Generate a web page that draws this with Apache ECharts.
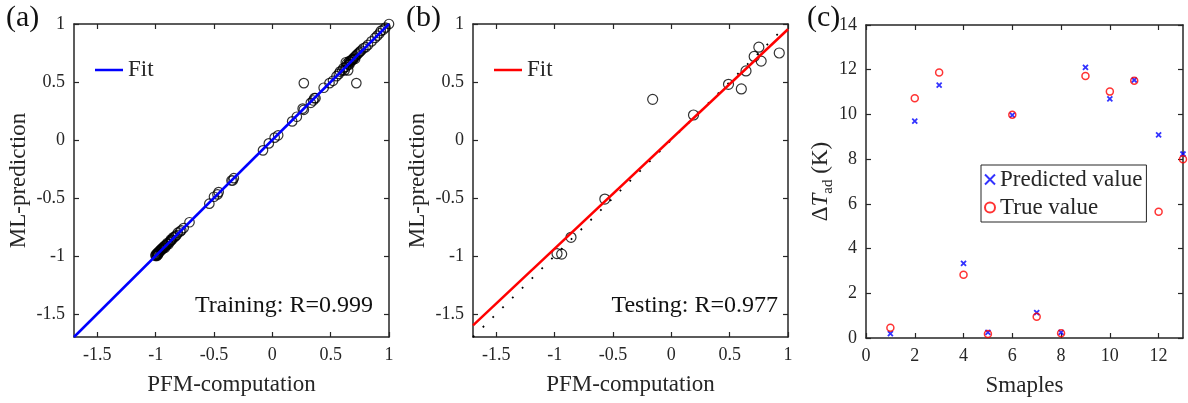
<!DOCTYPE html>
<html>
<head>
<meta charset="utf-8">
<script src="https://cdn.jsdelivr.net/npm/echarts@6/dist/echarts.min.js"></script>
<style>html,body{margin:0;padding:0;background:#fff}#c{width:1188px;height:403px}</style>
</head>
<body>
<div id="c"></div>
<script>
// ---------- data ----------
// (a) training: PFM-computation (x) vs ML-prediction (y)
const trainX = [-1.00,-1.00,-0.99,-0.99,-0.99,-0.98,-0.98,-0.98,-0.97,-0.97,-0.96,-0.96,-0.95,-0.95,-0.94,-0.94,-0.93,-0.93,-0.92,-0.92,-0.91,-0.90,-0.90,-0.89,-0.88,-0.87,-0.87,-0.86,-0.85,-0.84,-0.83,-0.82,-0.81,-0.79,-0.78,-0.76,-0.71,-0.54,-0.50,-0.47,-0.46,-0.35,-0.34,-0.33,-0.08,-0.03,0.02,0.05,0.17,0.21,0.26,0.27,0.27,0.33,0.35,0.36,0.37,0.44,0.49,0.52,0.55,0.57,0.58,0.60,0.61,0.62,0.63,0.63,0.64,0.65,0.65,0.66,0.66,0.67,0.67,0.68,0.69,0.69,0.70,0.71,0.71,0.72,0.72,0.73,0.74,0.75,0.76,0.78,0.80,0.82,0.85,0.88,0.90,0.92,0.93,0.95,0.97,1.00];
const trainY = [-1.00,-0.99,-0.99,-0.98,-1.00,-0.99,-0.97,-0.98,-0.97,-0.96,-0.96,-0.95,-0.95,-0.94,-0.94,-0.93,-0.92,-0.93,-0.93,-0.91,-0.91,-0.89,-0.90,-0.90,-0.88,-0.86,-0.87,-0.86,-0.84,-0.84,-0.83,-0.82,-0.80,-0.79,-0.78,-0.76,-0.71,-0.55,-0.49,-0.47,-0.45,-0.35,-0.35,-0.33,-0.09,-0.03,0.02,0.04,0.16,0.20,0.27,0.49,0.26,0.32,0.34,0.36,0.36,0.45,0.49,0.51,0.55,0.57,0.59,0.60,0.62,0.60,0.67,0.63,0.66,0.60,0.65,0.65,0.68,0.67,0.68,0.69,0.70,0.69,0.71,0.72,0.70,0.73,0.49,0.74,0.75,0.76,0.77,0.79,0.80,0.82,0.85,0.88,0.90,0.92,0.94,0.95,0.97,1.00];
const fitAX = [-1.7, 1.0];
const fitAY = [-1.7, 1.0];
// (b) testing
const testX = [-0.98,-0.94,-0.86,-0.57,-0.16,0.19,0.49,0.60,0.64,0.71,0.75,0.77,0.925];
const testY = [-0.98,-0.985,-0.84,-0.51,0.35,0.215,0.48,0.44,0.595,0.72,0.80,0.68,0.75];
const fitBX = [-1.7, 1.0];
const fitBY = [-1.60, 0.955];
const idealX = [-1.7, 0.93];
const idealY = [-1.7, 0.93];
// (c) samples
const samples   = [1,2,3,4,5,6,7,8,9,10,11,12,13];
const predicted = [0.20,9.70,11.31,3.34,0.25,9.97,1.13,0.25,12.10,10.70,11.54,9.09,8.23];
const trueVal   = [0.46,10.72,11.88,2.83,0.18,9.99,0.95,0.21,11.72,11.02,11.51,5.65,7.99];
// ticks
const ticksAB = [-1.5,-1,-0.5,0,0.5,1];
const ticksCX = [0,2,4,6,8,10,12];
const ticksCY = [0,2,4,6,8,10,12,14];

const zip = (a,b) => a.map((v,i)=>[v,b[i]]);
const FONT = 'Liberation Serif';
const AX = '#262626';

function mkAxis(type, grid, min, max, ticks, main, pos, extra) {
  const o = {
    type: 'value', gridIndex: grid, min: min, max: max, position: pos,
    splitLine: {show: false},
    axisLine: {show: true, onZero: false, lineStyle: {color: AX, width: 1.5}},
    axisTick: {show: true, inside: true, length: 5, customValues: ticks, lineStyle: {color: AX, width: 1.2}},
    axisLabel: {show: main, customValues: ticks, color: '#262626', fontSize: 18, fontFamily: FONT, margin: 9},
  };
  return Object.assign(o, extra || {});
}

const nameStyle = {color: '#262626', fontSize: 23, fontFamily: FONT};

const option = {
  animation: false,
  backgroundColor: '#fff',
  textStyle: {fontFamily: FONT},
  grid: [
    {left: 74, top: 24, width: 315, height: 313},
    {left: 473, top: 24, width: 315, height: 313},
    {left: 866, top: 25, width: 317, height: 313}
  ],
  xAxis: [
    mkAxis('x',0,-1.7,1,ticksAB,true,'bottom',{name:'PFM-computation',nameLocation:'middle',nameGap:36,nameTextStyle:nameStyle}),
    mkAxis('x',0,-1.7,1,ticksAB,false,'top'),
    mkAxis('x',1,-1.7,1,ticksAB,true,'bottom',{name:'PFM-computation',nameLocation:'middle',nameGap:36,nameTextStyle:nameStyle}),
    mkAxis('x',1,-1.7,1,ticksAB,false,'top'),
    mkAxis('x',2,0,13,ticksCX,true,'bottom',{name:'Smaples',nameLocation:'middle',nameGap:36,nameTextStyle:nameStyle}),
    mkAxis('x',2,0,13,ticksCX,false,'top')
  ],
  yAxis: [
    mkAxis('y',0,-1.7,1,ticksAB,true,'left',{name:'ML-prediction',nameLocation:'middle',nameGap:44,nameTextStyle:nameStyle}),
    mkAxis('y',0,-1.7,1,ticksAB,false,'right'),
    mkAxis('y',1,-1.7,1,ticksAB,true,'left',{name:'ML-prediction',nameLocation:'middle',nameGap:44,nameTextStyle:nameStyle}),
    mkAxis('y',1,-1.7,1,ticksAB,false,'right'),
    mkAxis('y',2,0,14,ticksCY,true,'left',{
      name:'{d|Δ}{i|T}{s|ad}{d| (K)}', nameLocation:'middle', nameGap:20,
      nameTextStyle:{color:'#262626', fontFamily:FONT, fontSize:23,
        rich:{d:{fontSize:23,fontFamily:FONT,color:'#262626',lineHeight:28},
              i:{fontSize:23,fontFamily:FONT,fontStyle:'italic',color:'#262626',lineHeight:28},
              s:{fontSize:15,fontFamily:FONT,color:'#262626',verticalAlign:'bottom',lineHeight:22}}}
    }),
    mkAxis('y',2,0,14,ticksCY,false,'right')
  ],
  legend: [
    {left: 95, top: 58, padding: 0, itemWidth: 28, itemHeight: 2.5,
     data: [{name:'FitA', icon:'rect', itemStyle:{color:'#0000ff'}}],
     formatter: () => 'Fit', textStyle: {fontSize: 23, fontFamily: FONT, color: '#262626', lineHeight: 24}},
    {left: 494, top: 58, padding: 0, itemWidth: 28, itemHeight: 2.5,
     data: [{name:'FitB', icon:'rect', itemStyle:{color:'#ff0000'}}],
     formatter: () => 'Fit', textStyle: {fontSize: 23, fontFamily: FONT, color: '#262626', lineHeight: 24}},
    {left: 981, top: 165, orient: 'vertical', padding: [3,4,3,3], itemGap: 5, itemWidth: 10, itemHeight: 10,
     borderColor: '#262626', borderWidth: 1, backgroundColor: '#fff',
     data: ['Predicted value','True value'],
     textStyle: {fontSize: 23, fontFamily: FONT, color: '#262626'}}
  ],
  graphic: [
    {type:'text', left: 6, top: 3, style:{text:'(a)', font:'30px "Liberation Serif"', fill:'#111'}},
    {type:'text', left: 406, top: 3, style:{text:'(b)', font:'30px "Liberation Serif"', fill:'#111'}},
    {type:'text', left: 807, top: 3, style:{text:'(c)', font:'30px "Liberation Serif"', fill:'#111'}},
    {type:'text', right: 1188-373, top: 294, style:{text:'Training: R=0.999', font:'24px "Liberation Serif"', fill:'#111'}},
    {type:'text', right: 1188-778, top: 294, style:{text:'Testing: R=0.977', font:'24px "Liberation Serif"', fill:'#111'}}
  ],
  series: [
    {type:'scatter', name:'Training', xAxisIndex:0, yAxisIndex:0, clip:false, symbol:'circle', symbolSize:9.5,
     itemStyle:{color:'rgba(0,0,0,0)', borderColor:'#000', borderWidth:1.2}, data: zip(trainX, trainY)},
    {type:'line', name:'FitA', xAxisIndex:0, yAxisIndex:0, symbol:'none', z:3,
     lineStyle:{color:'#0000ff', width:2.5}, itemStyle:{color:'#0000ff'}, data: zip(fitAX, fitAY)},
    {type:'scatter', name:'Testing', xAxisIndex:2, yAxisIndex:2, clip:false, symbol:'circle', symbolSize:10,
     itemStyle:{color:'rgba(0,0,0,0)', borderColor:'#000', borderWidth:1.2}, data: zip(testX, testY)},
    {type:'line', name:'Ideal', xAxisIndex:2, yAxisIndex:2, symbol:'none',
     lineStyle:{color:'#000', width:1.8, type:[1.8,12]}, data: zip(idealX, idealY)},
    {type:'line', name:'FitB', xAxisIndex:2, yAxisIndex:2, symbol:'none',
     lineStyle:{color:'#ff0000', width:2.5}, itemStyle:{color:'#ff0000'}, data: zip(fitBX, fitBY)},
    {type:'scatter', name:'Predicted value', xAxisIndex:4, yAxisIndex:4, clip:false,
     symbol:'path://M0,0L10,10M10,0L0,10', symbolSize:5,
     itemStyle:{color:'rgba(0,0,0,0)', borderColor:'#0000ff', borderWidth:1.8}, data: zip(samples, predicted)},
    {type:'scatter', name:'True value', xAxisIndex:4, yAxisIndex:4, clip:false, symbol:'circle', symbolSize:7,
     itemStyle:{color:'rgba(0,0,0,0)', borderColor:'#ff0000', borderWidth:1.5}, data: zip(samples, trueVal)}
  ]
};
const chart = echarts.init(document.getElementById('c'), null, {renderer:'canvas'});
chart.setOption(option);
</script>
</body>
</html>
